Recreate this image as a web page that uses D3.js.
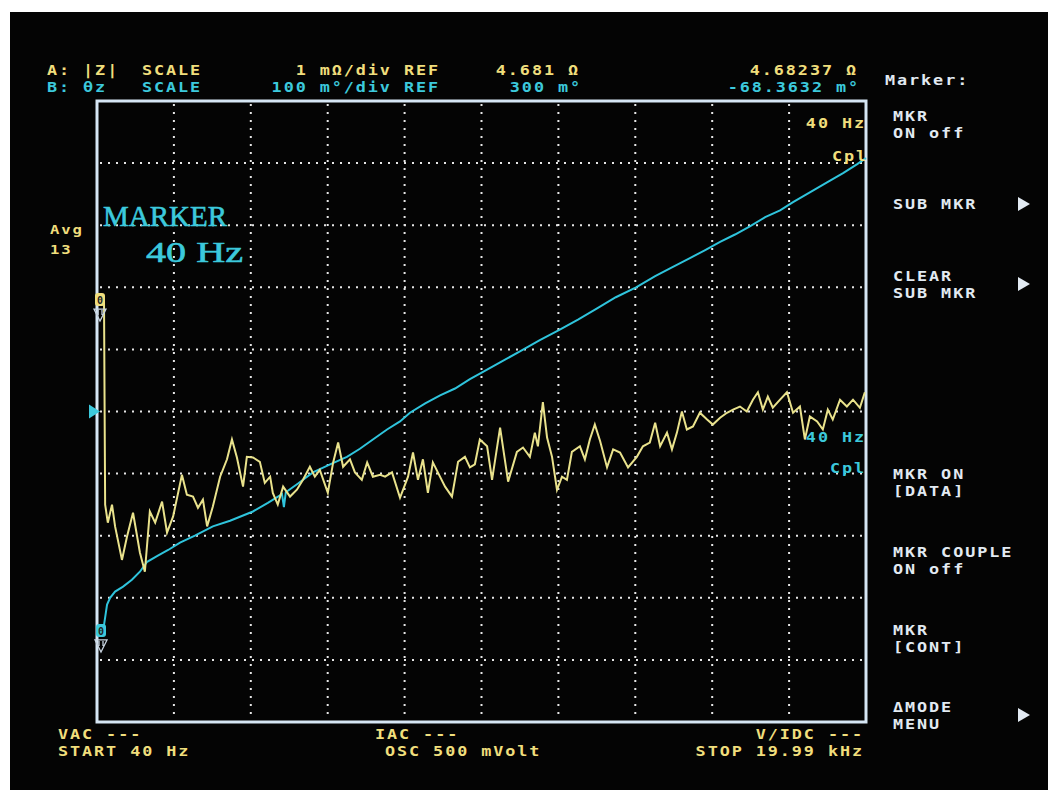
<!DOCTYPE html>
<html>
<head>
<meta charset="utf-8">
<script src="https://cdn.jsdelivr.net/npm/d3@7"></script>
<style>
  html, body { margin: 0; padding: 0; background: #ffffff; }
  svg { display: block; }
  .mono { font-family: "DejaVu Sans Mono", monospace; font-weight: bold; }
</style>
</head>
<body>
<div id="chart"></div>
<script>
'use strict';

// sweep: 40 Hz .. 19.99 kHz, 10 div on each axis
var START_HZ = 40;
var STOP_HZ = 19990;

// trace A: |Z|, 1 mOhm/div, REF 4.681 Ohm (values = mOhm away from REF)
var freqA = [0.04, 0.07, 0.14, 0.25, 0.33, 0.51, 0.64, 0.80, 0.98, 1.11, 1.24, 1.38, 1.56, 1.69, 1.85,
    2.08, 2.21, 2.37, 2.50, 2.63, 2.74, 2.89, 3.08, 3.26, 3.39, 3.52, 3.68, 3.78, 3.94, 4.12, 4.25,
    4.39, 4.46, 4.59, 4.73, 4.91, 5.09, 5.25, 5.43, 5.56, 5.69, 5.90, 6.04, 6.17, 6.30, 6.48, 6.61,
    6.79, 6.93, 7.08, 7.27, 7.40, 7.58, 7.79, 8.00, 8.13, 8.26, 8.39, 8.52, 8.65, 8.78, 8.97, 9.15,
    9.31, 9.49, 9.62, 9.75, 9.88, 10.07, 10.20, 10.41, 10.62, 10.85, 11.01, 11.19, 11.32, 11.40,
    11.53, 11.64, 11.77, 11.90, 12.03, 12.16, 12.29, 12.50, 12.63, 12.76, 12.89, 13.03, 13.21,
    13.37, 13.55, 13.76, 13.99, 14.15, 14.33, 14.47, 14.60, 14.78, 14.91, 15.04, 15.17, 15.30,
    15.46, 15.64, 15.83, 15.98, 16.17, 16.35, 16.51, 16.69, 16.87, 17.03, 17.16, 17.29, 17.42,
    17.55, 17.74, 17.92, 18.08, 18.26, 18.39, 18.52, 18.71, 18.86, 18.99, 19.12, 19.31, 19.49,
    19.65, 19.83, 19.96];
var zDev = [1.81, -1.50, -1.79, -1.50, -1.85, -2.39, -2.02, -1.63, -2.27, -2.58, -1.61, -1.79, -1.45,
    -1.95, -1.69, -1.02, -1.34, -1.37, -1.55, -1.42, -1.85, -1.53, -1.05, -0.77, -0.45, -0.74,
    -1.21, -0.73, -0.74, -0.81, -1.15, -1.05, -1.31, -1.50, -1.21, -1.37, -1.26, -1.10, -0.89,
    -1.05, -0.94, -1.31, -0.82, -0.50, -0.89, -0.77, -0.98, -1.10, -0.82, -1.05, -1.02, -1.05,
    -0.98, -1.39, -1.05, -0.66, -1.10, -0.77, -1.31, -0.82, -0.98, -1.21, -1.37, -0.81, -0.73,
    -0.90, -0.85, -0.45, -0.56, -1.10, -0.26, -1.13, -0.65, -0.58, -0.73, -0.34, -0.56, 0.15,
    -0.42, -0.73, -1.26, -1.05, -1.10, -0.65, -0.56, -0.77, -0.45, -0.21, -0.48, -0.90, -0.61,
    -0.66, -0.90, -0.73, -0.56, -0.50, -0.18, -0.56, -0.34, -0.61, -0.34, 0.00, -0.29, -0.24,
    -0.02, -0.13, -0.21, -0.10, -0.02, 0.03, 0.08, 0.00, 0.19, 0.31, 0.03, 0.24, 0.06, 0.19, 0.31,
    -0.02, 0.08, -0.45, -0.08, -0.16, -0.29, 0.03, -0.13, 0.19, 0.08, 0.19, 0.06, 0.31];

// trace B: theta z, 100 m°/div, REF 300 m°
var freqB = [0.04, 0.12, 0.20, 0.33, 0.54, 0.77, 0.98, 1.17, 1.45, 1.72, 2.03, 2.42, 2.89, 3.34, 3.94,
    4.33, 4.70, 4.75, 4.80, 5.12, 5.51, 5.96, 6.40, 6.74, 7.08, 7.45, 7.79, 8.05, 8.45, 8.84, 9.23,
    9.62, 9.94, 10.41, 10.93, 11.45, 11.95, 12.45, 12.95, 13.44, 13.97, 14.47, 14.91, 15.38, 15.78,
    16.17, 16.56, 16.95, 17.35, 17.74, 18.08, 18.52, 18.97, 19.39, 19.75, 19.99];
var theta = [-44, -11, 0, 10, 18, 29, 42, 58, 68, 77, 89, 100, 115, 124, 139, 153, 167, 146, 170,
    184, 202, 215, 227, 240, 255, 271, 284, 298, 313, 326, 337, 352, 363, 379, 397, 415, 431,
    448, 466, 484, 500, 518, 532, 547, 560, 573, 585, 598, 613, 624, 637, 653, 669, 684, 698, 708];

var gridDivs = d3.range(0, 11);

var softKeys = [
    ["MKR", "ON off"],
    ["SUB MKR"],
    ["CLEAR", "SUB MKR"],
    ["MKR ON", "[DATA]"],
    ["MKR COUPLE", "ON off"],
    ["MKR", "[CONT]"],
    ["\u0394MODE", "MENU"]
];
var softKeyTop = [121, 209, 281, 479, 557, 635, 712];
var softKeyArrow = [false, true, true, false, false, false, true];

var W = 1056, H = 799;
var YELLOW = "#f0de7c";
var CYAN = "#3cc9dc";
var WHITE = "#e2eaf2";

var pl = 97, pr = 866, pt = 101, pb = 722;

var svg = d3.select("#chart").append("svg")
    .attr("width", W)
    .attr("height", H);

svg.append("rect")
    .attr("x", 10).attr("y", 12)
    .attr("width", 1038).attr("height", 778)
    .attr("fill", "#040404");

var gx = d3.scaleLinear().domain([0, 10]).range([pl, pr]);
var gy = d3.scaleLinear().domain([0, 10]).range([pb, pt]);

var x = d3.scaleLinear().domain([START_HZ / 1000, STOP_HZ / 1000]).range([104, pr]);
var yA = d3.scaleLinear().domain([-5, 5]).range([pb, pt]);
var yB = d3.scaleLinear().domain([-200, 800]).range([pb, pt]);

// dotted grid
svg.append("g").selectAll("line.v")
    .data(gridDivs.slice(1, 10))
    .enter().append("line")
    .attr("x1", function (d) { return gx(d); })
    .attr("x2", function (d) { return gx(d); })
    .attr("y1", pt + 3).attr("y2", pb - 2)
    .attr("stroke", "#e6e6e6")
    .attr("stroke-width", 2)
    .attr("stroke-dasharray", "2,6");

svg.append("g").selectAll("line.h")
    .data(gridDivs.slice(1, 10))
    .enter().append("line")
    .attr("y1", function (d) { return gy(d); })
    .attr("y2", function (d) { return gy(d); })
    .attr("x1", pl + 3).attr("x2", pr - 2)
    .attr("stroke", "#e6e6e6")
    .attr("stroke-width", 2)
    .attr("stroke-dasharray", "2,6");

// frame
svg.append("rect")
    .attr("x", pl).attr("y", pt)
    .attr("width", pr - pl).attr("height", pb - pt)
    .attr("fill", "none")
    .attr("stroke", "#d6e6f4")
    .attr("stroke-width", 3);

// traces
var lineA = d3.line()
    .x(function (d) { return x(d[0]); })
    .y(function (d) { return yA(d[1]); });
var lineB = d3.line()
    .x(function (d) { return x(d[0]); })
    .y(function (d) { return yB(d[1]); });

svg.append("path")
    .datum(d3.zip(freqB, theta))
    .attr("d", lineB)
    .attr("fill", "none")
    .attr("stroke", "#2fc4dc")
    .attr("stroke-width", 2);

svg.append("path")
    .datum(d3.zip(freqA, zDev))
    .attr("d", lineA)
    .attr("fill", "none")
    .attr("stroke", "#e9e28c")
    .attr("stroke-width", 2);

// screen font: wide squat glyphs, so stretch horizontally
function label(txt, px, py, color, anchor, size) {
    return svg.append("text")
        .attr("class", "mono")
        .attr("transform", "translate(" + px + "," + py + ") scale(1.2,1)")
        .attr("fill", color)
        .attr("text-anchor", anchor || "start")
        .attr("font-size", size || 14)
        .attr("letter-spacing", 1.6)
        .text(txt);
}

// header
label("A: |Z|", 47, 75, YELLOW);
label("SCALE", 142, 75, YELLOW);
label("1 m\u03a9/div REF", 440, 75, YELLOW, "end");
label("4.681 \u03a9", 580, 75, YELLOW, "end");
label("4.68237 \u03a9", 858, 75, YELLOW, "end");

label("B: \u03b8z", 47, 91.5, CYAN);
label("SCALE", 142, 91.5, CYAN);
label("100 m\u00b0/div REF", 440, 91.5, CYAN, "end");
label("300 m\u00b0", 582, 91.5, CYAN, "end");
label("-68.3632 m\u00b0", 860, 91.5, CYAN, "end");

label("Marker:", 885, 85, WHITE);

// left side
label("Avg", 50, 234, YELLOW, "start", 13);
label("13", 50, 254, YELLOW, "start", 13);

svg.append("text")
    .attr("x", 103).attr("y", 226)
    .attr("font-family", "'Liberation Serif', serif")
    .attr("font-size", 30)
    .attr("fill", CYAN)
    .attr("stroke", CYAN)
    .attr("stroke-width", 0.6)
    .attr("textLength", 124)
    .attr("lengthAdjust", "spacingAndGlyphs")
    .text("MARKER");
svg.append("text")
    .attr("x", 146).attr("y", 262)
    .attr("font-family", "'Liberation Serif', serif")
    .attr("font-size", 30)
    .attr("fill", CYAN)
    .attr("stroke", CYAN)
    .attr("stroke-width", 0.6)
    .attr("textLength", 97)
    .attr("lengthAdjust", "spacingAndGlyphs")
    .text("40 Hz");

// marker flags at start of sweep
function markerFlag(cx, cy, color) {
    svg.append("rect")
        .attr("x", cx - 5).attr("y", cy - 8)
        .attr("width", 10).attr("height", 13)
        .attr("rx", 3)
        .attr("fill", color);
    svg.append("text")
        .attr("class", "mono")
        .attr("x", cx).attr("y", cy + 3)
        .attr("text-anchor", "middle")
        .attr("font-size", 10)
        .attr("fill", "#222")
        .text("0");
    svg.append("path")
        .attr("d", "M" + (cx - 6) + "," + (cy + 8) + "L" + (cx + 6) + "," + (cy + 8) + "L" + cx + "," + (cy + 20) + "Z" +
            "M" + (cx - 2) + "," + (cy + 9) + "L" + (cx - 2) + "," + (cy + 14) +
            "M" + (cx + 2) + "," + (cy + 9) + "L" + (cx + 2) + "," + (cy + 14))
        .attr("fill", "none")
        .attr("stroke", "#c8d4e0")
        .attr("stroke-width", 1.3);
}
markerFlag(x(freqA[0]) - 4, yA(zDev[0]) + 2, YELLOW);
markerFlag(x(freqB[0]) - 3, yB(-55), CYAN);

// ref pointer for trace B
svg.append("path")
    .attr("d", "M" + (pl - 8) + "," + (yB(300) - 7) + "L" + (pl + 3) + "," + yB(300) + "L" + (pl - 8) + "," + (yB(300) + 7) + "Z")
    .attr("fill", CYAN);

// marker readouts inside the grid
label("40 Hz", 866, 128, YELLOW, "end");
label("Cpl", 868, 161, YELLOW, "end");
label("40 Hz", 866, 442, CYAN, "end");
label("Cpl", 866, 473, CYAN, "end");

// soft keys
softKeys.forEach(function (lines, i) {
    lines.forEach(function (t, j) {
        label(t, 893, softKeyTop[i] + j * 16.5, WHITE);
    });
    if (softKeyArrow[i]) {
        var ay = softKeyTop[i] - 5 + (lines.length - 1) * 8;
        svg.append("path")
            .attr("d", "M1018," + (ay - 7) + "L1030," + ay + "L1018," + (ay + 7) + "Z")
            .attr("fill", WHITE);
    }
});

// footer
label("VAC ---", 58, 739, YELLOW);
label("START 40 Hz", 58, 755.5, YELLOW);
label("IAC ---", 375, 739, YELLOW);
label("OSC 500 mVolt", 385, 755.5, YELLOW);
label("V/IDC ---", 864, 739, YELLOW, "end");
label("STOP 19.99 kHz", 864, 755.5, YELLOW, "end");
</script>
</body>
</html>
